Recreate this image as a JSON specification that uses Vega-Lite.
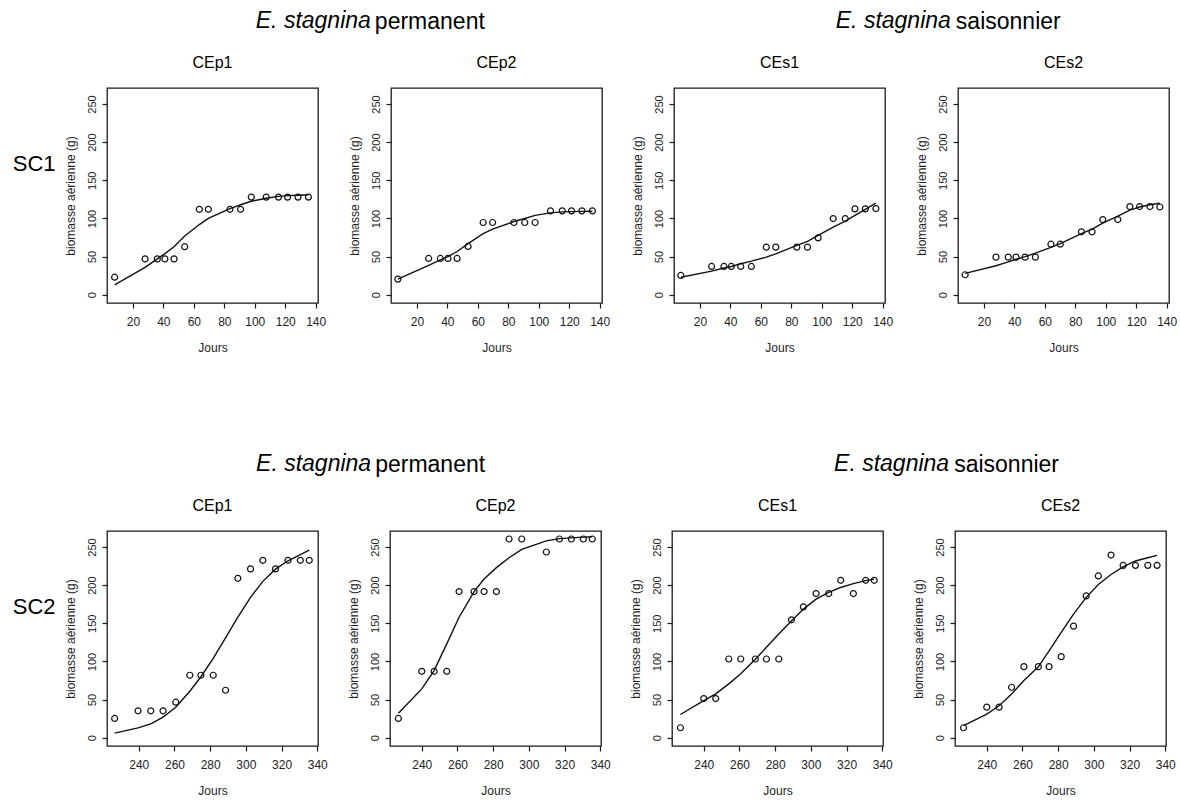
{
  "$schema": "https://vega.github.io/schema/vega-lite/v6.json",
  "padding": {"top": 10, "left": 12, "right": 2, "bottom": 2},
  "data": {"values": [
    {"p":"A1","day":8,"biomass":23,"fit":13},
    {"p":"A1","day":28,"biomass":47,"fit":36},
    {"p":"A1","day":36,"biomass":47,"fit":47},
    {"p":"A1","day":41,"biomass":47,"fit":54},
    {"p":"A1","day":47,"biomass":47,"fit":63},
    {"p":"A1","day":54,"biomass":63,"fit":77},
    {"p":"A1","day":63.6,"biomass":112,"fit":92},
    {"p":"A1","day":69.5,"biomass":112,"fit":100},
    {"p":"A1","day":83.7,"biomass":112,"fit":113},
    {"p":"A1","day":90.7,"biomass":112,"fit":118},
    {"p":"A1","day":97.7,"biomass":128,"fit":122.5},
    {"p":"A1","day":107.5,"biomass":128,"fit":126.5},
    {"p":"A1","day":115.6,"biomass":128,"fit":129},
    {"p":"A1","day":121.5,"biomass":128,"fit":130},
    {"p":"A1","day":128.4,"biomass":128,"fit":130.5},
    {"p":"A1","day":135.2,"biomass":128,"fit":131},

    {"p":"A2","day":7.5,"biomass":20.5,"fit":20.5},
    {"p":"A2","day":27.7,"biomass":47.6,"fit":38.4},
    {"p":"A2","day":35.4,"biomass":47.6,"fit":45.8},
    {"p":"A2","day":40.4,"biomass":47.6,"fit":50},
    {"p":"A2","day":46.4,"biomass":47.6,"fit":56.7},
    {"p":"A2","day":53.6,"biomass":63.3,"fit":67},
    {"p":"A2","day":63.5,"biomass":94.7,"fit":80},
    {"p":"A2","day":69.7,"biomass":94.7,"fit":86},
    {"p":"A2","day":83.7,"biomass":94.7,"fit":96},
    {"p":"A2","day":90.8,"biomass":94.7,"fit":100},
    {"p":"A2","day":97.6,"biomass":94.7,"fit":104},
    {"p":"A2","day":107.7,"biomass":110,"fit":107.3},
    {"p":"A2","day":115.4,"biomass":110,"fit":108.6},
    {"p":"A2","day":121.5,"biomass":110,"fit":109},
    {"p":"A2","day":128.3,"biomass":110,"fit":109.3},
    {"p":"A2","day":135.2,"biomass":110,"fit":109.5},

    {"p":"A3","day":7.5,"biomass":25.3,"fit":23},
    {"p":"A3","day":27.7,"biomass":37.1,"fit":31},
    {"p":"A3","day":35.8,"biomass":37.1,"fit":35},
    {"p":"A3","day":40.6,"biomass":37.1,"fit":37},
    {"p":"A3","day":46.8,"biomass":37.1,"fit":40.6},
    {"p":"A3","day":53.8,"biomass":37.1,"fit":44},
    {"p":"A3","day":63.6,"biomass":62.4,"fit":49.3},
    {"p":"A3","day":69.8,"biomass":62.4,"fit":53.7},
    {"p":"A3","day":83.6,"biomass":62.4,"fit":64.6},
    {"p":"A3","day":90.6,"biomass":62.4,"fit":70},
    {"p":"A3","day":97.6,"biomass":74.6,"fit":77.7},
    {"p":"A3","day":107.5,"biomass":99.9,"fit":88.6},
    {"p":"A3","day":115.4,"biomass":99.9,"fit":96.5},
    {"p":"A3","day":121.8,"biomass":112.6,"fit":104},
    {"p":"A3","day":128.6,"biomass":112.6,"fit":112},
    {"p":"A3","day":135.5,"biomass":113,"fit":120},

    {"p":"A4","day":7.7,"biomass":26.2,"fit":28},
    {"p":"A4","day":27.9,"biomass":49.3,"fit":38},
    {"p":"A4","day":36,"biomass":49.3,"fit":43},
    {"p":"A4","day":41.1,"biomass":49.3,"fit":46.5},
    {"p":"A4","day":47,"biomass":49.3,"fit":50},
    {"p":"A4","day":53.8,"biomass":49.3,"fit":54.5},
    {"p":"A4","day":64,"biomass":66.3,"fit":62},
    {"p":"A4","day":70.1,"biomass":66.3,"fit":67},
    {"p":"A4","day":84,"biomass":82.5,"fit":80},
    {"p":"A4","day":91,"biomass":82.5,"fit":86},
    {"p":"A4","day":98,"biomass":98.6,"fit":94},
    {"p":"A4","day":107.9,"biomass":98.6,"fit":103},
    {"p":"A4","day":115.8,"biomass":115.6,"fit":111},
    {"p":"A4","day":122.2,"biomass":115.6,"fit":115},
    {"p":"A4","day":129,"biomass":115.6,"fit":118},
    {"p":"A4","day":135.5,"biomass":115,"fit":120},

    {"p":"B1","day":226.5,"biomass":25.3,"fit":6},
    {"p":"B1","day":239.6,"biomass":35.3,"fit":13},
    {"p":"B1","day":246.7,"biomass":35.3,"fit":18.3},
    {"p":"B1","day":253.6,"biomass":35.3,"fit":27},
    {"p":"B1","day":260.7,"biomass":46.6,"fit":40},
    {"p":"B1","day":268.6,"biomass":81.9,"fit":61},
    {"p":"B1","day":274.8,"biomass":81.9,"fit":80},
    {"p":"B1","day":281.7,"biomass":81.9,"fit":104},
    {"p":"B1","day":288.6,"biomass":62.3,"fit":131},
    {"p":"B1","day":295.5,"biomass":209,"fit":158},
    {"p":"B1","day":302.6,"biomass":221.3,"fit":184},
    {"p":"B1","day":309.5,"biomass":232.6,"fit":205},
    {"p":"B1","day":316.6,"biomass":221.3,"fit":221},
    {"p":"B1","day":323.6,"biomass":232.6,"fit":232},
    {"p":"B1","day":330.5,"biomass":232.6,"fit":240},
    {"p":"B1","day":335.5,"biomass":232.6,"fit":246},

    {"p":"B2","day":226.9,"biomass":25.3,"fit":32},
    {"p":"B2","day":240,"biomass":87.1,"fit":64},
    {"p":"B2","day":246.9,"biomass":87.1,"fit":88},
    {"p":"B2","day":254,"biomass":87.1,"fit":123},
    {"p":"B2","day":260.9,"biomass":191.6,"fit":158},
    {"p":"B2","day":269.3,"biomass":191.6,"fit":191.6},
    {"p":"B2","day":274.9,"biomass":191.6,"fit":208},
    {"p":"B2","day":281.8,"biomass":191.6,"fit":223},
    {"p":"B2","day":288.9,"biomass":260.5,"fit":236},
    {"p":"B2","day":296,"biomass":260.5,"fit":247},
    {"p":"B2","day":309.8,"biomass":243.5,"fit":258},
    {"p":"B2","day":317.1,"biomass":260.5,"fit":261},
    {"p":"B2","day":323.8,"biomass":260.5,"fit":262},
    {"p":"B2","day":330.5,"biomass":260.5,"fit":263},
    {"p":"B2","day":335.5,"biomass":260.5,"fit":263.5},

    {"p":"B3","day":226.9,"biomass":13.1,"fit":30.5},
    {"p":"B3","day":240,"biomass":51.4,"fit":48.8},
    {"p":"B3","day":246.7,"biomass":51.4,"fit":57.5},
    {"p":"B3","day":254,"biomass":103.2,"fit":70.6},
    {"p":"B3","day":260.7,"biomass":103.2,"fit":84},
    {"p":"B3","day":268.9,"biomass":103.2,"fit":103},
    {"p":"B3","day":275.1,"biomass":103.2,"fit":118.5},
    {"p":"B3","day":282,"biomass":103.2,"fit":136},
    {"p":"B3","day":289.1,"biomass":154.6,"fit":153},
    {"p":"B3","day":295.8,"biomass":171.6,"fit":168.6},
    {"p":"B3","day":302.9,"biomass":189,"fit":181.6},
    {"p":"B3","day":310,"biomass":189,"fit":190.5},
    {"p":"B3","day":316.7,"biomass":206.4,"fit":197},
    {"p":"B3","day":323.8,"biomass":189,"fit":202},
    {"p":"B3","day":330.7,"biomass":206.4,"fit":206},
    {"p":"B3","day":335.5,"biomass":206.4,"fit":208},

    {"p":"B4","day":227,"biomass":13.1,"fit":16},
    {"p":"B4","day":240,"biomass":40.1,"fit":31},
    {"p":"B4","day":246.9,"biomass":40.1,"fit":42},
    {"p":"B4","day":253.9,"biomass":66.2,"fit":57.5},
    {"p":"B4","day":260.8,"biomass":93.2,"fit":75},
    {"p":"B4","day":268.9,"biomass":93.2,"fit":93},
    {"p":"B4","day":274.9,"biomass":93.2,"fit":114},
    {"p":"B4","day":281.7,"biomass":106.3,"fit":138},
    {"p":"B4","day":288.6,"biomass":146.3,"fit":162},
    {"p":"B4","day":295.7,"biomass":186,"fit":184},
    {"p":"B4","day":302.5,"biomass":212.1,"fit":201},
    {"p":"B4","day":309.6,"biomass":239.5,"fit":214},
    {"p":"B4","day":316.4,"biomass":226,"fit":224},
    {"p":"B4","day":323.3,"biomass":226,"fit":231.7},
    {"p":"B4","day":330.2,"biomass":226,"fit":236},
    {"p":"B4","day":335.4,"biomass":226,"fit":239}
  ]},
  "config": {
    "font": "Liberation Sans",
    "view": {"stroke": "#1a1a1a", "strokeWidth": 1.3},
    "axis": {"domain": false, "grid": false, "tickColor": "#1a1a1a", "tickSize": 5, "tickWidth": 1.2, "labelFont": "Liberation Sans", "labelFontSize": 11, "labelColor": "#222", "titleFont": "Liberation Sans", "titleFontSize": 12, "titleFontWeight": "normal", "titleColor": "#222", "labelOverlap": false, "labelFlush": false},
    "axisX": {"labelPadding": 8, "labelFontSize": 12, "titlePadding": 15},
    "axisY": {"labelAngle": 270, "labelAlign": "center", "labelBaseline": "bottom", "labelPadding": 5, "titlePadding": 9},
    "title": {"font": "Liberation Sans", "fontWeight": "normal", "color": "black"}
  },
  "spacing": 99,
  "vconcat": [
    {
      "title": {"text": "SC1", "orient": "left", "angle": 0, "fontSize": 22, "anchor": "middle", "align": "right", "baseline": "middle", "offset": -35, "dy": -18},
      "spacing": 19,
      "hconcat": [
        {
          "title": {"text": "permanent", "fontSize": 23, "anchor": "middle", "align": "left", "baseline": "alphabetic", "dx": 38, "offset": -42},
          "vconcat": [{
            "title": {"text": "E. stagnina", "fontStyle": "italic", "fontSize": 23, "anchor": "middle", "align": "right", "baseline": "alphabetic", "dx": 34, "offset": 3},
            "spacing": 20,
            "hconcat": [
              {"width": 211, "height": 215, "title": {"text": "CEp1", "fontSize": 16, "anchor": "middle", "frame": "group", "baseline": "alphabetic", "offset": 4},
               "transform": [{"filter": {"field": "p", "equal": "A1"}}],
               "encoding": {"x": {"field": "day", "type": "quantitative", "scale": {"domain": [3, 141.5], "nice": false, "zero": false}, "axis": {"values": [20, 40, 60, 80, 100, 120, 140], "title": "Jours"}}},
               "layer": [
                 {"mark": {"type": "line", "color": "#111", "strokeWidth": 1.4}, "encoding": {"y": {"field": "fit", "type": "quantitative", "scale": {"domain": [-10.8, 271], "nice": false, "zero": false}, "axis": {"values": [0, 50, 100, 150, 200, 250], "title": "biomasse aérienne (g)"}}}},
                 {"mark": {"type": "point", "shape": "circle", "filled": false, "color": "#111", "size": 36, "strokeWidth": 1.2, "opacity": 1}, "encoding": {"y": {"field": "biomass", "type": "quantitative"}}}
               ]},
              {"width": 211, "height": 215, "title": {"text": "CEp2", "fontSize": 16, "anchor": "middle", "frame": "group", "baseline": "alphabetic", "offset": 4},
               "transform": [{"filter": {"field": "p", "equal": "A2"}}],
               "encoding": {"x": {"field": "day", "type": "quantitative", "scale": {"domain": [3, 141.5], "nice": false, "zero": false}, "axis": {"values": [20, 40, 60, 80, 100, 120, 140], "title": "Jours"}}},
               "layer": [
                 {"mark": {"type": "line", "color": "#111", "strokeWidth": 1.4}, "encoding": {"y": {"field": "fit", "type": "quantitative", "scale": {"domain": [-10.8, 271], "nice": false, "zero": false}, "axis": {"values": [0, 50, 100, 150, 200, 250], "title": "biomasse aérienne (g)"}}}},
                 {"mark": {"type": "point", "shape": "circle", "filled": false, "color": "#111", "size": 36, "strokeWidth": 1.2, "opacity": 1}, "encoding": {"y": {"field": "biomass", "type": "quantitative"}}}
               ]}
            ]
          }]
        },
        {
          "title": {"text": "saisonnier", "fontSize": 23, "anchor": "middle", "align": "left", "baseline": "alphabetic", "dx": 52, "offset": -42},
          "vconcat": [{
            "title": {"text": "E. stagnina", "fontStyle": "italic", "fontSize": 23, "anchor": "middle", "align": "right", "baseline": "alphabetic", "dx": 47, "offset": 3},
            "spacing": 20,
            "hconcat": [
              {"width": 211, "height": 215, "title": {"text": "CEs1", "fontSize": 16, "anchor": "middle", "frame": "group", "baseline": "alphabetic", "offset": 4},
               "transform": [{"filter": {"field": "p", "equal": "A3"}}],
               "encoding": {"x": {"field": "day", "type": "quantitative", "scale": {"domain": [3, 141.5], "nice": false, "zero": false}, "axis": {"values": [20, 40, 60, 80, 100, 120, 140], "title": "Jours"}}},
               "layer": [
                 {"mark": {"type": "line", "color": "#111", "strokeWidth": 1.4}, "encoding": {"y": {"field": "fit", "type": "quantitative", "scale": {"domain": [-10.8, 271], "nice": false, "zero": false}, "axis": {"values": [0, 50, 100, 150, 200, 250], "title": "biomasse aérienne (g)"}}}},
                 {"mark": {"type": "point", "shape": "circle", "filled": false, "color": "#111", "size": 36, "strokeWidth": 1.2, "opacity": 1}, "encoding": {"y": {"field": "biomass", "type": "quantitative"}}}
               ]},
              {"width": 211, "height": 215, "title": {"text": "CEs2", "fontSize": 16, "anchor": "middle", "frame": "group", "baseline": "alphabetic", "offset": 4},
               "transform": [{"filter": {"field": "p", "equal": "A4"}}],
               "encoding": {"x": {"field": "day", "type": "quantitative", "scale": {"domain": [3, 141.5], "nice": false, "zero": false}, "axis": {"values": [20, 40, 60, 80, 100, 120, 140], "title": "Jours"}}},
               "layer": [
                 {"mark": {"type": "line", "color": "#111", "strokeWidth": 1.4}, "encoding": {"y": {"field": "fit", "type": "quantitative", "scale": {"domain": [-10.8, 271], "nice": false, "zero": false}, "axis": {"values": [0, 50, 100, 150, 200, 250], "title": "biomasse aérienne (g)"}}}},
                 {"mark": {"type": "point", "shape": "circle", "filled": false, "color": "#111", "size": 36, "strokeWidth": 1.2, "opacity": 1}, "encoding": {"y": {"field": "biomass", "type": "quantitative"}}}
               ]}
            ]
          }]
        }
      ]
    },
    {
      "title": {"text": "SC2", "orient": "left", "angle": 0, "fontSize": 22, "anchor": "middle", "align": "right", "baseline": "middle", "offset": -35, "dy": -18},
      "spacing": 17,
      "hconcat": [
        {
          "title": {"text": "permanent", "fontSize": 23, "anchor": "middle", "align": "left", "baseline": "alphabetic", "dx": 38, "offset": -42},
          "vconcat": [{
            "title": {"text": "E. stagnina", "fontStyle": "italic", "fontSize": 23, "anchor": "middle", "align": "right", "baseline": "alphabetic", "dx": 34, "offset": 3},
            "spacing": 18,
            "hconcat": [
              {"width": 211, "height": 215, "title": {"text": "CEp1", "fontSize": 16, "anchor": "middle", "frame": "group", "baseline": "alphabetic", "offset": 4},
               "transform": [{"filter": {"field": "p", "equal": "B1"}}],
               "encoding": {"x": {"field": "day", "type": "quantitative", "scale": {"domain": [222.2, 340.4], "nice": false, "zero": false}, "axis": {"values": [240, 260, 280, 300, 320, 340], "title": "Jours"}}},
               "layer": [
                 {"mark": {"type": "line", "color": "#111", "strokeWidth": 1.4}, "encoding": {"y": {"field": "fit", "type": "quantitative", "scale": {"domain": [-10.8, 271], "nice": false, "zero": false}, "axis": {"values": [0, 50, 100, 150, 200, 250], "title": "biomasse aérienne (g)"}}}},
                 {"mark": {"type": "point", "shape": "circle", "filled": false, "color": "#111", "size": 36, "strokeWidth": 1.2, "opacity": 1}, "encoding": {"y": {"field": "biomass", "type": "quantitative"}}}
               ]},
              {"width": 211, "height": 215, "title": {"text": "CEp2", "fontSize": 16, "anchor": "middle", "frame": "group", "baseline": "alphabetic", "offset": 4},
               "transform": [{"filter": {"field": "p", "equal": "B2"}}],
               "encoding": {"x": {"field": "day", "type": "quantitative", "scale": {"domain": [222.2, 340.4], "nice": false, "zero": false}, "axis": {"values": [240, 260, 280, 300, 320, 340], "title": "Jours"}}},
               "layer": [
                 {"mark": {"type": "line", "color": "#111", "strokeWidth": 1.4}, "encoding": {"y": {"field": "fit", "type": "quantitative", "scale": {"domain": [-10.8, 271], "nice": false, "zero": false}, "axis": {"values": [0, 50, 100, 150, 200, 250], "title": "biomasse aérienne (g)"}}}},
                 {"mark": {"type": "point", "shape": "circle", "filled": false, "color": "#111", "size": 36, "strokeWidth": 1.2, "opacity": 1}, "encoding": {"y": {"field": "biomass", "type": "quantitative"}}}
               ]}
            ]
          }]
        },
        {
          "title": {"text": "saisonnier", "fontSize": 23, "anchor": "middle", "align": "left", "baseline": "alphabetic", "dx": 52, "offset": -42},
          "vconcat": [{
            "title": {"text": "E. stagnina", "fontStyle": "italic", "fontSize": 23, "anchor": "middle", "align": "right", "baseline": "alphabetic", "dx": 47, "offset": 3},
            "spacing": 18,
            "hconcat": [
              {"width": 211, "height": 215, "title": {"text": "CEs1", "fontSize": 16, "anchor": "middle", "frame": "group", "baseline": "alphabetic", "offset": 4},
               "transform": [{"filter": {"field": "p", "equal": "B3"}}],
               "encoding": {"x": {"field": "day", "type": "quantitative", "scale": {"domain": [222.2, 340.4], "nice": false, "zero": false}, "axis": {"values": [240, 260, 280, 300, 320, 340], "title": "Jours"}}},
               "layer": [
                 {"mark": {"type": "line", "color": "#111", "strokeWidth": 1.4}, "encoding": {"y": {"field": "fit", "type": "quantitative", "scale": {"domain": [-10.8, 271], "nice": false, "zero": false}, "axis": {"values": [0, 50, 100, 150, 200, 250], "title": "biomasse aérienne (g)"}}}},
                 {"mark": {"type": "point", "shape": "circle", "filled": false, "color": "#111", "size": 36, "strokeWidth": 1.2, "opacity": 1}, "encoding": {"y": {"field": "biomass", "type": "quantitative"}}}
               ]},
              {"width": 211, "height": 215, "title": {"text": "CEs2", "fontSize": 16, "anchor": "middle", "frame": "group", "baseline": "alphabetic", "offset": 4},
               "transform": [{"filter": {"field": "p", "equal": "B4"}}],
               "encoding": {"x": {"field": "day", "type": "quantitative", "scale": {"domain": [222.2, 340.4], "nice": false, "zero": false}, "axis": {"values": [240, 260, 280, 300, 320, 340], "title": "Jours"}}},
               "layer": [
                 {"mark": {"type": "line", "color": "#111", "strokeWidth": 1.4}, "encoding": {"y": {"field": "fit", "type": "quantitative", "scale": {"domain": [-10.8, 271], "nice": false, "zero": false}, "axis": {"values": [0, 50, 100, 150, 200, 250], "title": "biomasse aérienne (g)"}}}},
                 {"mark": {"type": "point", "shape": "circle", "filled": false, "color": "#111", "size": 36, "strokeWidth": 1.2, "opacity": 1}, "encoding": {"y": {"field": "biomass", "type": "quantitative"}}}
               ]}
            ]
          }]
        }
      ]
    }
  ]
}
